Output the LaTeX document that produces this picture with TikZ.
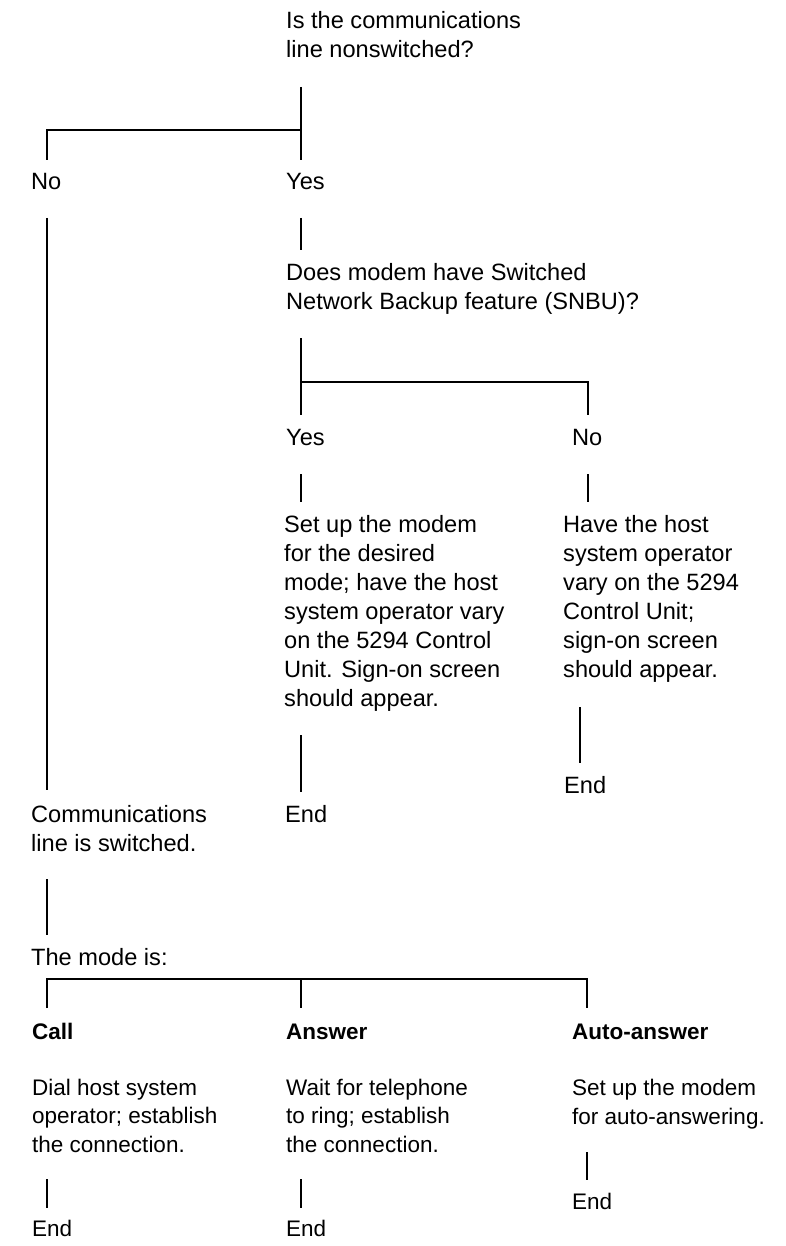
\documentclass[tikz,border=0pt]{standalone}
\usepackage{fontspec}
\setmainfont{Liberation Sans}
\begin{document}
% anchors sit on the baseline of the LAST line of each text block
\begin{tikzpicture}[x=1pt,y=-1pt,
  txt/.style={anchor=base west, inner sep=0pt, align=left,
    font=\fontsize{23.6}{29}\selectfont},
  small/.style={anchor=base west, inner sep=0pt, align=left,
    font=\fontsize{22.5}{28.3}\selectfont},
  smallbold/.style={small, font=\bfseries\fontsize{22.5}{28.3}\selectfont},
  wire/.style={line width=2.4pt}]
\useasboundingbox (0,0) rectangle (786,1246);

% first question
\node[txt] (q1) at (286,58) {Is the communications\\line nonswitched?};
\node[txt] (no1) at (31,190) {No};
\node[txt] (yes1) at (286,190) {Yes};

% second question (SNBU)
\node[txt] (q2) at (286,309) {Does modem have Switched\\Network Backup feature (SNBU)?};
\node[txt] (yes2) at (286,445) {Yes};
\node[txt] (no2) at (572,445) {No};
\node[txt] (setA) at (284,706) {Set up the modem\\for the desired\\mode; have the host\\system operator vary\\on the 5294 Control\\Unit. Sign-on screen\\should appear.};
\node[txt] (setB) at (563,677) {Have the host\\system operator\\vary on the 5294\\Control Unit;\\sign-on screen\\should appear.};
\node[txt] (endA) at (285,822) {End};
\node[txt] (endB) at (564,793) {End};

% switched line
\node[txt] (sw) at (31,851) {Communications\\line is switched.};
\node[txt] (mode) at (31,965) {The mode is:};

% modes
\node[smallbold] (call) at (32,1039) {Call};
\node[smallbold] (ans) at (286,1039) {Answer};
\node[smallbold] (auto) at (572,1039) {Auto-answer};
\node[small] (dial) at (32,1152) {Dial host system\\operator; establish\\the connection.};
\node[small] (wait) at (286,1152) {Wait for telephone\\to ring; establish\\the connection.};
\node[small] (setC) at (572,1124) {Set up the modem\\for auto-answering.};
\node[small] (endC) at (32,1236) {End};
\node[small] (endD) at (286,1236) {End};
\node[small] (endE) at (572,1209) {End};

% connector end points
\coordinate (a1) at (301,87);
\coordinate (a2) at (301,130);
\coordinate (a3) at (301,160);
\coordinate (a4) at (47,130);
\coordinate (a5) at (47,160);
\coordinate (b1) at (301,218);
\coordinate (b2) at (301,250);
\coordinate (c1) at (301,338);
\coordinate (c2) at (301,382);
\coordinate (c3) at (301,415);
\coordinate (c4) at (588,382);
\coordinate (c5) at (588,415);
\coordinate (d1) at (301,474);
\coordinate (d2) at (301,502);
\coordinate (d3) at (588,474);
\coordinate (d4) at (588,502);
\coordinate (e1) at (301,735);
\coordinate (e2) at (301,792);
\coordinate (e3) at (580,707);
\coordinate (e4) at (580,763);
\coordinate (f1) at (47,218);
\coordinate (f2) at (47,790);
\coordinate (g1) at (47,879);
\coordinate (g2) at (47,935);
\coordinate (h1) at (47,979);
\coordinate (h2) at (301,979);
\coordinate (h3) at (587,979);
\coordinate (h4) at (47,1008);
\coordinate (h5) at (301,1008);
\coordinate (h6) at (587,1008);
\coordinate (k1) at (47,1179);
\coordinate (k2) at (47,1208);
\coordinate (k3) at (301,1179);
\coordinate (k4) at (301,1208);
\coordinate (k5) at (587,1152);
\coordinate (k6) at (587,1180);

\draw[wire] (a1) -- (a3);
\draw[wire] (a2) -- (a4) -- (a5);
\draw[wire] (b1) -- (b2);
\draw[wire] (c1) -- (c3);
\draw[wire] (c2) -- (c4) -- (c5);
\draw[wire] (d1) -- (d2);
\draw[wire] (d3) -- (d4);
\draw[wire] (e1) -- (e2);
\draw[wire] (e3) -- (e4);
\draw[wire] (f1) -- (f2);
\draw[wire] (g1) -- (g2);
\draw[wire] (h4) -- (h1) -- (h3) -- (h6);
\draw[wire] (h2) -- (h5);
\draw[wire] (k1) -- (k2);
\draw[wire] (k3) -- (k4);
\draw[wire] (k5) -- (k6);
\end{tikzpicture}
\end{document}
